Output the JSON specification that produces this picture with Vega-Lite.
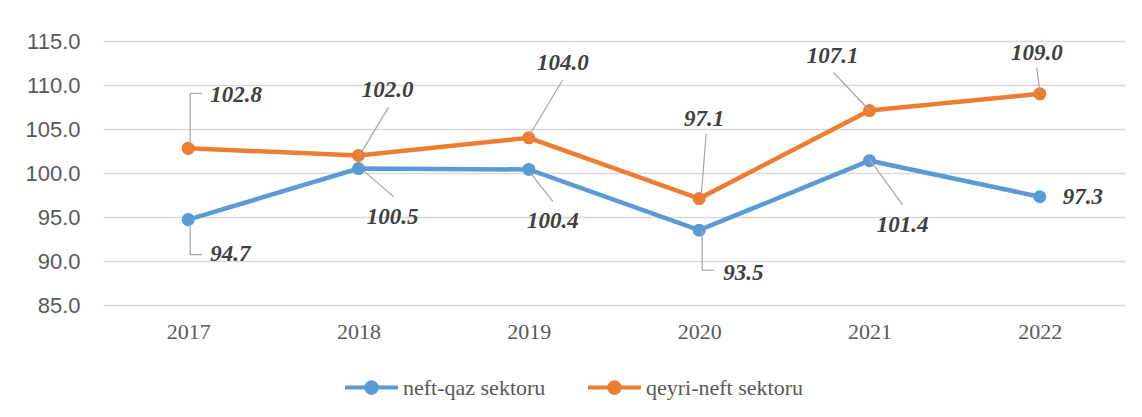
{
  "$schema": "https://vega.github.io/schema/vega-lite/v6.json",
  "width": 1022,
  "height": 264,
  "autosize": {"type": "none"},
  "padding": {"left": 103, "top": 41, "right": 17, "bottom": 112},
  "background": "#ffffff",
  "config": {
    "view": {"stroke": null},
    "legend": {"labelFont": "Liberation Serif", "labelFontSize": 22, "labelColor": "#595959"}
  },
  "data": {
    "values": [
      {"year": "2017", "series": "neft-qaz sektoru", "value": 94.7},
      {"year": "2018", "series": "neft-qaz sektoru", "value": 100.5},
      {"year": "2019", "series": "neft-qaz sektoru", "value": 100.4},
      {"year": "2020", "series": "neft-qaz sektoru", "value": 93.5},
      {"year": "2021", "series": "neft-qaz sektoru", "value": 101.4},
      {"year": "2022", "series": "neft-qaz sektoru", "value": 97.3},
      {"year": "2017", "series": "qeyri-neft sektoru", "value": 102.8},
      {"year": "2018", "series": "qeyri-neft sektoru", "value": 102.0},
      {"year": "2019", "series": "qeyri-neft sektoru", "value": 104.0},
      {"year": "2020", "series": "qeyri-neft sektoru", "value": 97.1},
      {"year": "2021", "series": "qeyri-neft sektoru", "value": 107.1},
      {"year": "2022", "series": "qeyri-neft sektoru", "value": 109.0}
    ]
  },
  "encoding": {
    "x": {
      "field": "year", "type": "ordinal",
      "scale": {"type": "point", "padding": 0.5},
      "axis": {"title": null, "labelAngle": 0, "labelFont": "Liberation Serif", "labelFontSize": 22, "labelColor": "#595959", "labelPadding": 16, "domain": false, "ticks": false, "grid": false}
    },
    "y": {
      "field": "value", "type": "quantitative",
      "scale": {"domain": [85, 115], "nice": false, "zero": false},
      "axis": {"title": null, "values": [85, 90, 95, 100, 105, 110, 115], "format": ".1f", "labelFont": "Liberation Sans", "labelFontSize": 22, "labelColor": "#595959", "labelPadding": 23, "domain": false, "ticks": false, "gridColor": "#d9d9d9", "gridWidth": 1.3}
    }
  },
  "layer": [
    {
      "mark": {"type": "line", "strokeWidth": 4.5},
      "encoding": {
        "color": {
          "field": "series", "type": "nominal",
          "scale": {"domain": ["neft-qaz sektoru", "qeyri-neft sektoru"], "range": ["#5b9bd5", "#ed7d31"]},
          "legend": {"title": null, "orient": "none", "legendX": 240, "legendY": 318, "direction": "horizontal", "symbolType": "M-1,0H1M-0.2,0a0.2,0.2 0 1,0 0.4,0a0.2,0.2 0 1,0 -0.4,0", "symbolSize": 2809, "symbolStrokeWidth": 4, "labelFont": "Liberation Serif", "labelFontSize": 22, "labelColor": "#595959", "labelLimit": 400, "columnPadding": 34, "labelOffset": 3}
        }
      }
    },
    {
      "mark": {"type": "point", "filled": true, "size": 170, "opacity": 1},
      "encoding": {"color": {"field": "series", "type": "nominal", "legend": null}}
    },
    {
      "transform": [{"filter": "datum.year == '2017' && datum.series == 'qeyri-neft sektoru'"}],
      "layer": [
        {"mark": {"type": "rule", "color": "#a6a6a6", "strokeWidth": 1.2, "xOffset": 2, "yOffset": -3, "x2Offset": 2, "y2Offset": -55}, "encoding": {"x2": {"field": "year"}, "y2": {"field": "value"}}},
        {"mark": {"type": "rule", "color": "#a6a6a6", "strokeWidth": 1.2, "xOffset": 2, "yOffset": -55, "x2Offset": 14, "y2Offset": -55}, "encoding": {"x2": {"field": "year"}, "y2": {"field": "value"}}},
        {"mark": {"type": "text", "dx": 22, "dy": -53, "align": "left", "baseline": "middle", "font": "Liberation Serif", "fontSize": 23, "fontWeight": "bold", "fontStyle": "italic", "color": "#404040"}, "encoding": {"text": {"field": "value", "type": "quantitative", "format": ".1f"}}}
      ]
    },
    {
      "transform": [{"filter": "datum.year == '2017' && datum.series == 'neft-qaz sektoru'"}],
      "layer": [
        {"mark": {"type": "rule", "color": "#a6a6a6", "strokeWidth": 1.2, "xOffset": 2, "yOffset": 3, "x2Offset": 2, "y2Offset": 35}, "encoding": {"x2": {"field": "year"}, "y2": {"field": "value"}}},
        {"mark": {"type": "rule", "color": "#a6a6a6", "strokeWidth": 1.2, "xOffset": 2, "yOffset": 35, "x2Offset": 14, "y2Offset": 35}, "encoding": {"x2": {"field": "year"}, "y2": {"field": "value"}}},
        {"mark": {"type": "text", "dx": 22, "dy": 34, "align": "left", "baseline": "middle", "font": "Liberation Serif", "fontSize": 23, "fontWeight": "bold", "fontStyle": "italic", "color": "#404040"}, "encoding": {"text": {"field": "value", "type": "quantitative", "format": ".1f"}}}
      ]
    },
    {
      "transform": [{"filter": "datum.year == '2018' && datum.series == 'qeyri-neft sektoru'"}],
      "layer": [
        {"mark": {"type": "rule", "color": "#a6a6a6", "strokeWidth": 1.2, "xOffset": 1, "yOffset": 0, "x2Offset": 30, "y2Offset": -48}, "encoding": {"x2": {"field": "year"}, "y2": {"field": "value"}}},
        {"mark": {"type": "text", "dx": 29, "dy": -65, "align": "center", "baseline": "middle", "font": "Liberation Serif", "fontSize": 23, "fontWeight": "bold", "fontStyle": "italic", "color": "#404040"}, "encoding": {"text": {"field": "value", "type": "quantitative", "format": ".1f"}}}
      ]
    },
    {
      "transform": [{"filter": "datum.year == '2018' && datum.series == 'neft-qaz sektoru'"}],
      "layer": [
        {"mark": {"type": "rule", "color": "#a6a6a6", "strokeWidth": 1.2, "xOffset": 5, "yOffset": 2, "x2Offset": 35, "y2Offset": 28}, "encoding": {"x2": {"field": "year"}, "y2": {"field": "value"}}},
        {"mark": {"type": "text", "dx": 34, "dy": 48, "align": "center", "baseline": "middle", "font": "Liberation Serif", "fontSize": 23, "fontWeight": "bold", "fontStyle": "italic", "color": "#404040"}, "encoding": {"text": {"field": "value", "type": "quantitative", "format": ".1f"}}}
      ]
    },
    {
      "transform": [{"filter": "datum.year == '2019' && datum.series == 'qeyri-neft sektoru'"}],
      "layer": [
        {"mark": {"type": "rule", "color": "#a6a6a6", "strokeWidth": 1.2, "xOffset": 1, "yOffset": -3, "x2Offset": 34, "y2Offset": -58}, "encoding": {"x2": {"field": "year"}, "y2": {"field": "value"}}},
        {"mark": {"type": "text", "dx": 34, "dy": -75, "align": "center", "baseline": "middle", "font": "Liberation Serif", "fontSize": 23, "fontWeight": "bold", "fontStyle": "italic", "color": "#404040"}, "encoding": {"text": {"field": "value", "type": "quantitative", "format": ".1f"}}}
      ]
    },
    {
      "transform": [{"filter": "datum.year == '2019' && datum.series == 'neft-qaz sektoru'"}],
      "layer": [
        {"mark": {"type": "rule", "color": "#a6a6a6", "strokeWidth": 1.2, "xOffset": 1, "yOffset": 3, "x2Offset": 24, "y2Offset": 32}, "encoding": {"x2": {"field": "year"}, "y2": {"field": "value"}}},
        {"mark": {"type": "text", "dx": 24, "dy": 52, "align": "center", "baseline": "middle", "font": "Liberation Serif", "fontSize": 23, "fontWeight": "bold", "fontStyle": "italic", "color": "#404040"}, "encoding": {"text": {"field": "value", "type": "quantitative", "format": ".1f"}}}
      ]
    },
    {
      "transform": [{"filter": "datum.year == '2020' && datum.series == 'qeyri-neft sektoru'"}],
      "layer": [
        {"mark": {"type": "rule", "color": "#a6a6a6", "strokeWidth": 1.2, "xOffset": 2, "yOffset": -2, "x2Offset": 7, "y2Offset": -65}, "encoding": {"x2": {"field": "year"}, "y2": {"field": "value"}}},
        {"mark": {"type": "text", "dx": 5, "dy": -80, "align": "center", "baseline": "middle", "font": "Liberation Serif", "fontSize": 23, "fontWeight": "bold", "fontStyle": "italic", "color": "#404040"}, "encoding": {"text": {"field": "value", "type": "quantitative", "format": ".1f"}}}
      ]
    },
    {
      "transform": [{"filter": "datum.year == '2020' && datum.series == 'neft-qaz sektoru'"}],
      "layer": [
        {"mark": {"type": "rule", "color": "#a6a6a6", "strokeWidth": 1.2, "xOffset": 3, "yOffset": 0, "x2Offset": 3, "y2Offset": 40}, "encoding": {"x2": {"field": "year"}, "y2": {"field": "value"}}},
        {"mark": {"type": "rule", "color": "#a6a6a6", "strokeWidth": 1.2, "xOffset": 3, "yOffset": 40, "x2Offset": 15, "y2Offset": 40}, "encoding": {"x2": {"field": "year"}, "y2": {"field": "value"}}},
        {"mark": {"type": "text", "dx": 24, "dy": 43, "align": "left", "baseline": "middle", "font": "Liberation Serif", "fontSize": 23, "fontWeight": "bold", "fontStyle": "italic", "color": "#404040"}, "encoding": {"text": {"field": "value", "type": "quantitative", "format": ".1f"}}}
      ]
    },
    {
      "transform": [{"filter": "datum.year == '2021' && datum.series == 'qeyri-neft sektoru'"}],
      "layer": [
        {"mark": {"type": "rule", "color": "#a6a6a6", "strokeWidth": 1.2, "xOffset": 0, "yOffset": 0, "x2Offset": -36, "y2Offset": -38}, "encoding": {"x2": {"field": "year"}, "y2": {"field": "value"}}},
        {"mark": {"type": "text", "dx": -37, "dy": -55, "align": "center", "baseline": "middle", "font": "Liberation Serif", "fontSize": 23, "fontWeight": "bold", "fontStyle": "italic", "color": "#404040"}, "encoding": {"text": {"field": "value", "type": "quantitative", "format": ".1f"}}}
      ]
    },
    {
      "transform": [{"filter": "datum.year == '2021' && datum.series == 'neft-qaz sektoru'"}],
      "layer": [
        {"mark": {"type": "rule", "color": "#a6a6a6", "strokeWidth": 1.2, "xOffset": 1, "yOffset": 0, "x2Offset": 33, "y2Offset": 44}, "encoding": {"x2": {"field": "year"}, "y2": {"field": "value"}}},
        {"mark": {"type": "text", "dx": 33, "dy": 64, "align": "center", "baseline": "middle", "font": "Liberation Serif", "fontSize": 23, "fontWeight": "bold", "fontStyle": "italic", "color": "#404040"}, "encoding": {"text": {"field": "value", "type": "quantitative", "format": ".1f"}}}
      ]
    },
    {
      "transform": [{"filter": "datum.year == '2022' && datum.series == 'qeyri-neft sektoru'"}],
      "layer": [
        {"mark": {"type": "rule", "color": "#a6a6a6", "strokeWidth": 1.2, "xOffset": 0, "yOffset": -2, "x2Offset": -3, "y2Offset": -26}, "encoding": {"x2": {"field": "year"}, "y2": {"field": "value"}}},
        {"mark": {"type": "text", "dx": -3, "dy": -41, "align": "center", "baseline": "middle", "font": "Liberation Serif", "fontSize": 23, "fontWeight": "bold", "fontStyle": "italic", "color": "#404040"}, "encoding": {"text": {"field": "value", "type": "quantitative", "format": ".1f"}}}
      ]
    },
    {
      "transform": [{"filter": "datum.year == '2022' && datum.series == 'neft-qaz sektoru'"}],
      "mark": {"type": "text", "dx": 23, "dy": 0, "align": "left", "baseline": "middle", "font": "Liberation Serif", "fontSize": 23, "fontWeight": "bold", "fontStyle": "italic", "color": "#404040"},
      "encoding": {"text": {"field": "value", "type": "quantitative", "format": ".1f"}}
    }
  ]
}
